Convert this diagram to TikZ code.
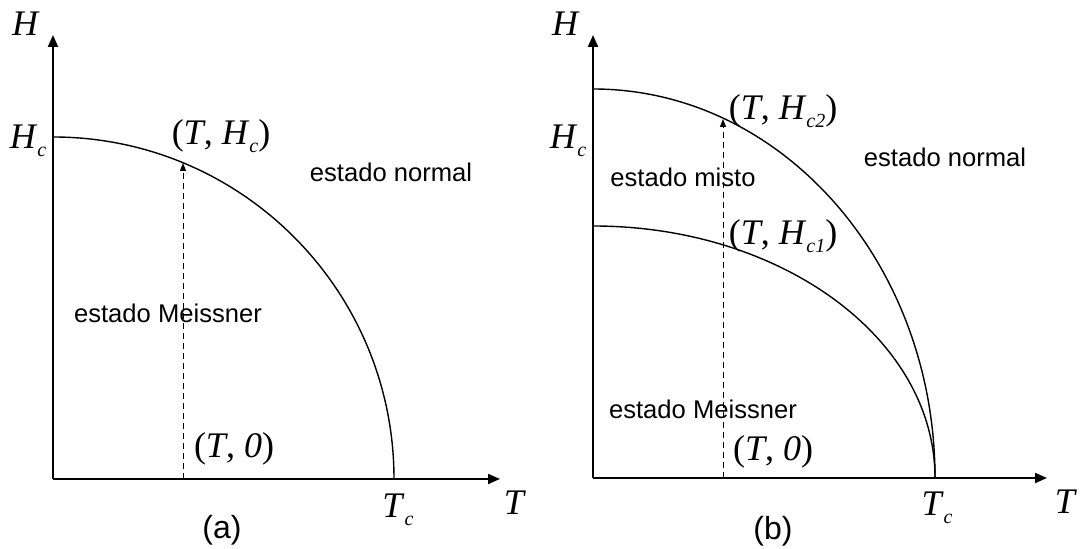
\documentclass[tikz,border=0pt]{standalone}
\usepackage{fontspec}
\setmainfont{Liberation Serif}
\setsansfont{Liberation Sans}
\usetikzlibrary{arrows.meta,positioning,calc}
\newcommand{\mv}[1]{\textit{#1}}
\newcommand{\sub}[1]{\raisebox{-0.45ex}{\fontsize{10}{10}\selectfont\itshape #1}}

\begin{document}
\begin{tikzpicture}[x=0.5pt,y=0.5pt,>=Triangle,
    axis/.style={line width=1pt,-{Triangle[length=6pt,width=5pt]}},
    curve/.style={line width=0.7pt},
    probe/.style={line width=0.45pt,dashed,dash pattern=on 3pt off 2pt,-{Triangle[length=4pt,width=3pt]}},
    lbl/.style={font=\fontsize{18}{20}\selectfont,inner sep=0pt},
    state/.style={font=\sffamily\fontsize{12.8}{14}\selectfont,inner sep=0pt}]
  \useasboundingbox (0,0) rectangle (1080,549);
  % (a) type I
  \coordinate (Oa) at (53,70);
  \coordinate (Ha) at (53,514);
  \coordinate (Ta) at (500,70);
  \coordinate (Hca) at (53,412);
  \coordinate (Pa) at (183,70);
  \coordinate (Qa) at (183,386);
  \draw[axis] (Oa) -- (Ha);
  \draw[axis] (Oa) -- (Ta);
  \draw[curve] (Hca) arc[start angle=90,end angle=0,x radius=341,y radius=342];
  \draw[probe] (Pa) -- (Qa);
  \node[lbl] (HaLab) at (26,525) {\mv{H}};
  \node[lbl] (HcaLab) at (28,408) {\mv{H}\sub{c}};
  \node[lbl] (THca) at (221,413) {(\mv{T}, \mv{H}\sub{c})};
  \node[state] (Na) at (391,377) {estado normal};
  \node[state] (Ma) at (168,236) {estado Meissner};
  \node[lbl] (T0a) at (234,100) {(\mv{T}, \mv{0})};
  \node[lbl] (Tca) at (398,39) {\mv{T}\sub{c}};
  \node[lbl] (TaLab) at (515,46) {\mv{T}};
  \node[state,font=\sffamily\fontsize{16}{18}\selectfont] (capa) at (222,19) {(a)};
  % (b) type II
  \coordinate (Ob) at (593,71);
  \coordinate (Hb) at (593,514);
  \coordinate (Tb) at (1047,71);
  \coordinate (Hcb2) at (593,460);
  \coordinate (Hcb1) at (593,323);
  \coordinate (Pb) at (723,71);
  \coordinate (Qb) at (723,430);
  \draw[axis] (Ob) -- (Hb);
  \draw[axis] (Ob) -- (Tb);
  \draw[curve] (Hcb2) arc[start angle=90,end angle=0,x radius=342,y radius=389];
  \draw[curve] (Hcb1) arc[start angle=90,end angle=0,x radius=342,y radius=252];
  \draw[probe] (Pb) -- (Qb);
  \node[lbl] (HbLab) at (566,525) {\mv{H}};
  \node[lbl] (HcbLab) at (568,408) {\mv{H}\sub{c}};
  \node[lbl] (THc2) at (783,438) {(\mv{T}, \mv{H}\sub{c2})};
  \node[state] (Nb) at (945,392) {estado normal};
  \node[state] (Xb) at (683,372) {estado misto};
  \node[lbl] (THc1) at (783,313) {(\mv{T}, \mv{H}\sub{c1})};
  \node[state] (Mb) at (703,140) {estado Meissner};
  \node[lbl] (T0b) at (773,97) {(\mv{T}, \mv{0})};
  \node[lbl] (Tcb) at (937,41) {\mv{T}\sub{c}};
  \node[lbl] (TbLab) at (1066,47) {\mv{T}};
  \node[state,font=\sffamily\fontsize{16}{18}\selectfont] (capb) at (773,18) {(b)};
\end{tikzpicture}
\end{document}
